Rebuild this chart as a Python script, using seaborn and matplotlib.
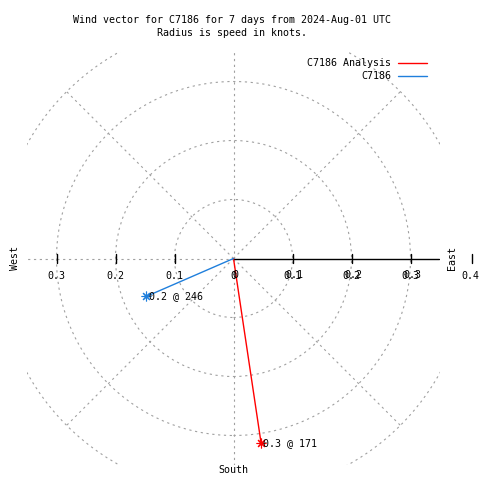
import numpy as np
import pandas as pd
import seaborn as sns
import matplotlib.pyplot as plt
from matplotlib.patches import Circle
from matplotlib.lines import Line2D
from matplotlib.transforms import offset_copy

# wind vectors: speed in knots, direction in degrees (compass)
series = ["C7186 Analysis", "C7186"]
speed = [0.316, 0.161]
direction = [171.5, 246.5]
colors = ["#ff0000", "#1f7fdc"]

rings = [0.1, 0.2, 0.3, 0.4]
tick_vals = [0.1, 0.2, 0.3]
spokes = [0, 45, 90, 135, 180, 225, 270, 315]

sns.set_style("white")
plt.rcParams["font.family"] = ["DejaVu Sans Mono"]
plt.rcParams["text.color"] = "black"
plt.rcParams["lines.scale_dashes"] = False
fs = 7.2
grid_kw = dict(color="#a0a0a0", lw=0.8, linestyle=(0, (1.6, 2.6)))

fig = plt.figure(figsize=(4.8, 4.8), dpi=100)
ax = fig.add_axes([27 / 480, 15 / 480, 413 / 480, 413 / 480])
ax.set_xlim(-0.35, 0.35)
ax.set_ylim(-0.35, 0.35)
ax.set_axis_off()

# grid rings and spokes
for r in rings:
    ax.add_patch(Circle((0, 0), r, fill=False, **grid_kw))
for a in spokes:
    if a == 90:
        continue
    t = np.radians(a)
    ax.plot([0, 0.4 * np.sin(t)], [0, 0.4 * np.cos(t)], **grid_kw)

# x axis (east side solid)
ax.plot([0, 0.349], [0, 0], color="black", lw=1)
for v in tick_vals:
    for s in (-1, 1):
        ax.plot([s * v, s * v], [-0.007, 0.007], color="black", lw=1)
tick_y = -0.03
for v in tick_vals:
    ax.text(-v, tick_y, f"{v:.1f}", ha="center", va="center", fontsize=fs)
for v in [0] + tick_vals:
    lab = "0" if v == 0 else f"{v:.1f}"
    ax.text(v, tick_y, lab, ha="center", va="center", fontsize=fs)
    tr = offset_copy(ax.transData, fig=fig, x=1.5, y=1.5, units="dots")
    ax.text(v, tick_y, lab, ha="center", va="center", fontsize=fs, transform=tr)
# 0.4 tick outside the box
ax.plot([0.404, 0.404], [-0.007, 0.008], color="black", lw=1, clip_on=False)
fig.text(479 / 480, 1 - 276 / 480, "0.4", ha="right", va="center", fontsize=fs)

ax.text(-0.37, 0, "West", rotation=90, ha="center", va="center", fontsize=fs)
ax.text(0.371, 0, "East", rotation=90, ha="center", va="center", fontsize=fs)
ax.text(0, -0.359, "South", ha="center", va="center", fontsize=fs)

# vectors
rows = []
for name, s, d in zip(series, speed, direction):
    t = np.radians(d)
    rows.append({"series": name, "x": 0.0, "y": 0.0, "k": 0})
    rows.append({"series": name, "x": s * np.sin(t), "y": s * np.cos(t), "k": 1})
df = pd.DataFrame(rows)
pal = dict(zip(series, colors))
sns.lineplot(data=df, x="x", y="y", hue="series", palette=pal, sort=False,
             estimator=None, units="series", lw=1, legend=False, ax=ax)
tips = df[df["k"] == 1]
for _, row in tips.iterrows():
    ax.plot(row["x"], row["y"], marker=(8, 2, 0), ms=7, mew=0.8,
            color=pal[row["series"]])
for (_, row), s, d in zip(tips.iterrows(), speed, direction):
    ax.text(row["x"] + 0.004, row["y"], f"{s:.1f} @ {int(d)}",
            ha="left", va="center", fontsize=fs)

# title
fig.text(232 / 480, 1 - 20 / 480, "Wind vector for C7186 for 7 days from 2024-Aug-01 UTC",
         ha="center", va="center", fontsize=fs)
fig.text(232 / 480, 1 - 33 / 480, "Radius is speed in knots.",
         ha="center", va="center", fontsize=fs)

# legend
for i, (name, c) in enumerate(zip(series, colors)):
    y = 1 - (63 + 13 * i) / 480
    fig.text(391 / 480, y, name, ha="right", va="center", fontsize=fs)
    fig.add_artist(Line2D([398 / 480, 427 / 480], [y, y], color=c, lw=1,
                          transform=fig.transFigure))

fig.savefig("out.png", dpi=100)
